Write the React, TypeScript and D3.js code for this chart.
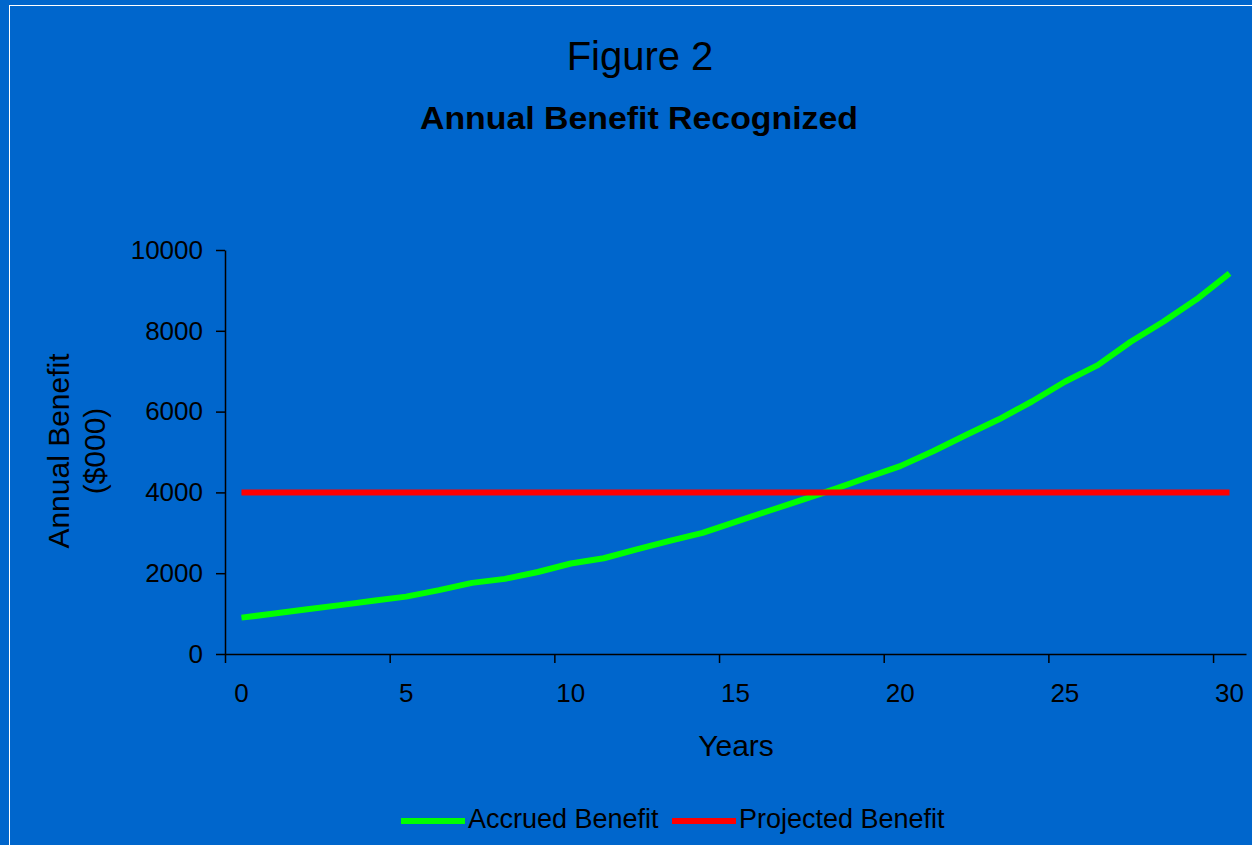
import React, { useEffect, useRef } from "react";
import * as d3 from "d3";

// Years 0..30 (category axis)
const years = d3.range(0, 31);

// Accrued benefit ($000)
const accruedBenefit = [
    900, 1000, 1110, 1210, 1320, 1420, 1580, 1760, 1860, 2030, 2240, 2370,
    2590, 2800, 3000, 3270, 3540, 3810, 4080, 4370, 4650, 5020, 5420, 5810,
    6250, 6740, 7150, 7730, 8230, 8780, 9420,
];

// Projected benefit is flat
const projectedBenefit = years.map(() => 4000);

const yTicks = [0, 2000, 4000, 6000, 8000, 10000];
const xLabelYears = [0, 5, 10, 15, 20, 25, 30];

const seriesNames = ["Accrued Benefit", "Projected Benefit"];
const seriesColors = ["#00ff00", "#ff0000"];

const FONT = "'Liberation Sans', Arial, sans-serif";

const App: React.FC = () => {
    const svgRef = useRef<SVGSVGElement>(null);

    const width = 1252;
    const height = 845;
    const plot = { left: 225, right: 1246, top: 250, bottom: 654 };

    useEffect(() => {
        document.body.style.margin = "0";
        if (!svgRef.current) return;

        const svg = d3.select(svgRef.current);
        svg.selectAll("*").remove();

        // background + thin white frame
        svg.append("rect")
            .attr("width", width)
            .attr("height", height)
            .attr("fill", "#0066cc");
        svg.append("rect")
            .attr("x", 9.5)
            .attr("y", 5.5)
            .attr("width", width + 20)
            .attr("height", height + 20)
            .attr("fill", "none")
            .attr("stroke", "#ffffff")
            .attr("stroke-width", 1);

        // titles
        svg.append("text")
            .attr("x", 640)
            .attr("y", 70)
            .attr("text-anchor", "middle")
            .attr("font-family", FONT)
            .attr("font-size", 40)
            .attr("fill", "#000")
            .text("Figure 2");

        svg.append("text")
            .attr("x", 639)
            .attr("y", 129)
            .attr("text-anchor", "middle")
            .attr("font-family", FONT)
            .attr("font-size", 31)
            .attr("font-weight", "bold")
            .attr("textLength", 438)
            .attr("lengthAdjust", "spacingAndGlyphs")
            .attr("fill", "#000")
            .text("Annual Benefit Recognized");

        // scales
        const xBand = d3
            .scaleBand<number>()
            .domain(years)
            .range([plot.left, plot.right])
            .paddingInner(0)
            .paddingOuter(0);
        // category boundaries, for the tick marks
        const xEdge = d3
            .scaleLinear()
            .domain([0, years.length])
            .range([plot.left, plot.right]);
        const yScale = d3
            .scaleLinear()
            .domain([0, 10000])
            .range([plot.bottom, plot.top]);

        const xCenter = (d: number) => (xBand(d) || 0) + xBand.bandwidth() / 2;

        // y axis
        const yAxis = svg
            .append("g")
            .attr("transform", `translate(${plot.left},0)`)
            .call(
                d3
                    .axisLeft(yScale)
                    .tickValues(yTicks)
                    .tickSize(9)
                    .tickSizeOuter(0)
                    .tickPadding(13)
                    .tickFormat((d) => `${d}`)
            );
        yAxis.select(".domain").attr("stroke", "#000").attr("stroke-width", 1.5);
        yAxis.selectAll(".tick line").attr("stroke", "#000").attr("stroke-width", 1.5);
        yAxis
            .selectAll("text")
            .attr("font-family", FONT)
            .attr("font-size", 26)
            .attr("fill", "#000");

        // x axis: tick marks between categories
        const xAxis = svg
            .append("g")
            .attr("transform", `translate(0,${plot.bottom})`)
            .call(
                d3
                    .axisBottom(xEdge)
                    .tickValues(xLabelYears)
                    .tickSize(9)
                    .tickSizeOuter(0)
                    .tickFormat(() => "")
            );
        xAxis.select(".domain").attr("stroke", "#000").attr("stroke-width", 1.5);
        xAxis.selectAll(".tick line").attr("stroke", "#000").attr("stroke-width", 1.5);

        // x labels centered on categories
        const xLabels = svg
            .append("g")
            .attr("transform", `translate(0,${plot.bottom})`)
            .call(
                d3
                    .axisBottom(xBand)
                    .tickValues(xLabelYears)
                    .tickSize(0)
                    .tickPadding(29.5)
            );
        xLabels.select(".domain").remove();
        xLabels
            .selectAll("text")
            .attr("font-family", FONT)
            .attr("font-size", 26)
            .attr("fill", "#000");

        // axis titles
        svg.append("text")
            .attr("x", 736)
            .attr("y", 756)
            .attr("text-anchor", "middle")
            .attr("font-family", FONT)
            .attr("font-size", 30)
            .attr("fill", "#000")
            .text("Years");

        const yTitle = svg
            .append("text")
            .attr("transform", "translate(0,451) rotate(-90)")
            .attr("text-anchor", "middle")
            .attr("font-family", FONT)
            .attr("font-size", 30)
            .attr("fill", "#000");
        yTitle.append("tspan").attr("x", 0).attr("y", 69).text("Annual Benefit");
        yTitle.append("tspan").attr("x", 0).attr("y", 105).text("($000)");

        // lines (red drawn last so it sits on top at the crossing)
        const line = d3
            .line<number>()
            .x((_, i) => xCenter(years[i]))
            .y((d) => yScale(d));

        [accruedBenefit, projectedBenefit].forEach((values, i) => {
            svg.append("path")
                .datum(values)
                .attr("d", line)
                .attr("fill", "none")
                .attr("stroke", seriesColors[i])
                .attr("stroke-width", 6)
                .attr("stroke-linejoin", "round");
        });

        // legend
        const legendItems = [
            { x: 401, label: seriesNames[0], color: seriesColors[0] },
            { x: 672, label: seriesNames[1], color: seriesColors[1] },
        ];
        const legend = svg.append("g");
        legendItems.forEach((item) => {
            legend
                .append("line")
                .attr("x1", item.x)
                .attr("x2", item.x + 64)
                .attr("y1", 821)
                .attr("y2", 821)
                .attr("stroke", item.color)
                .attr("stroke-width", 6);
            legend
                .append("text")
                .attr("x", item.x + 67)
                .attr("y", 828)
                .attr("font-family", FONT)
                .attr("font-size", 27)
                .attr("fill", "#000")
                .text(item.label);
        });
    }, []);

    return (
        <svg
            ref={svgRef}
            width={width}
            height={height}
            style={{ display: "block" }}
        />
    );
};

export default App;
